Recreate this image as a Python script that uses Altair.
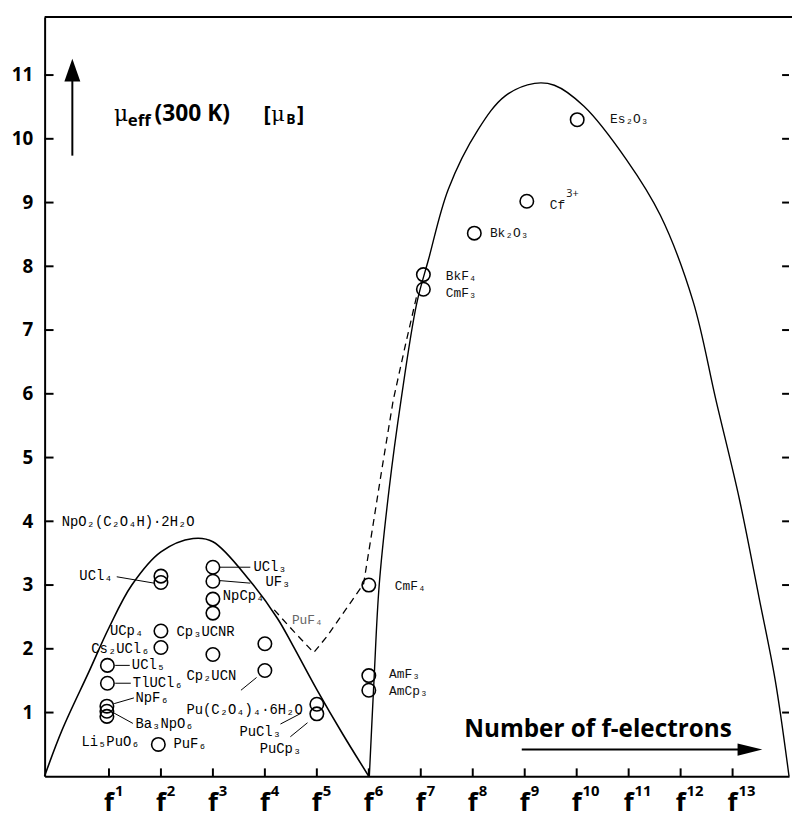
import altair as alt
import pandas as pd

# ---------------- data ----------------
f_ticks = list(range(1, 14))
f_tick_sup = [str(n) for n in f_ticks]
mu_ticks = list(range(1, 12))

# measured compounds: f-electron count, mu_eff(300 K)
cmp_names = ["UCl5", "TlUCl6", "NpF6", "Ba3NpO6", "Li5PuO6",
             "UCl4 a", "UCl4 b", "UCp4", "Cs2UCl6", "PuF6",
             "UCl3", "UF3", "NpCp4", "Cp3UCNR", "Cp2UCN",
             "f4 upper", "Pu(C2O4)4.6H2O", "PuCl3", "PuCp3",
             "CmF4", "AmF3", "AmCp3",
             "BkF4", "CmF3", "Bk2O3", "Cf3+", "Es2O3"]
cmp_f = [0.97, 0.97, 0.96, 0.96, 0.96,
         2.0, 2.0, 2.0, 2.0, 1.95,
         3.0, 3.0, 3.0, 3.0, 3.0,
         4.0, 4.0, 5.0, 5.0,
         6.0, 6.0, 6.0,
         7.05, 7.05, 8.03, 9.04, 10.01]
cmp_mu = [1.74, 1.46, 1.10, 1.02, 0.94,
          3.14, 3.04, 2.28, 2.02, 0.50,
          3.28, 3.06, 2.78, 2.56, 1.91,
          2.08, 1.66, 1.13, 0.98,
          3.00, 1.58, 1.35,
          7.87, 7.64, 8.52, 9.02, 10.30]

# theoretical curves (solid) and PuF4-type curve (dashed)
left_f = [-0.24, 0.10, 0.62, 1.0, 1.44, 2.0, 2.62, 3.0, 3.72, 4.24,
          4.54, 5.0, 5.5, 6.0]
left_mu = [0.0, 0.73, 1.65, 2.33, 3.0, 3.52, 3.73, 3.68, 3.06, 2.48,
           2.05, 1.36, 0.66, 0.0]

right_f = [6.01, 6.10, 6.20, 6.39, 6.62, 6.92, 7.15, 7.53, 8.10, 8.62, 9.19, 9.57,
           10.14, 10.96, 11.61, 12.24, 12.68, 13.13, 13.51, 13.82, 14.086]
right_mu = [0.0, 1.51, 3.0, 4.5, 5.9, 7.41, 8.11, 9.21, 10.14, 10.67, 10.87, 10.84,
            10.51, 9.67, 8.80, 7.45, 5.90, 4.35, 2.80, 1.51, 0.0]

dash_f = [4.18, 4.56, 4.94, 5.2, 5.44, 5.68, 5.9, 6.04, 6.25, 6.47, 6.7, 6.92]
dash_mu = [2.61, 2.27, 1.94, 2.2, 2.48, 2.76, 3.02, 3.73, 4.81, 5.90, 6.75, 7.53]

# compound labels (left-anchored, in data units)
lab_left_text = ["NpO₂(C₂O₄H)·2H₂O", "UCl₄", "UCl₃", "UF₃", "NpCp₄", "Cp₃UCNR",
                 "UCp₄", "Cs₂UCl₆", "UCl₅", "TlUCl₆", "NpF₆", "Ba₃NpO₆",
                 "Li₅PuO₆", "PuF₆", "Cp₂UCN", "Pu(C₂O₄)₄·6H₂O", "PuCl₃", "PuCp₃"]
lab_left_f = [0.09, 0.43, 3.78, 4.01, 3.19, 2.30,
              1.02, 0.66, 1.44, 1.46, 1.51, 1.51,
              0.47, 2.24, 2.49, 2.49, 3.51, 3.90]
lab_left_mu = [3.99, 3.14, 3.28, 3.04, 2.83, 2.27,
               2.28, 1.99, 1.74, 1.46, 1.23, 0.82,
               0.54, 0.50, 1.57, 1.04, 0.70, 0.42]

lab_right_text = ["CmF₄", "AmF₃", "AmCp₃", "BkF₄", "CmF₃", "Bk₂O₃", "Cf", "Es₂O₃"]
lab_right_f = [6.50, 6.39, 6.39, 7.48, 7.48, 8.33, 9.48, 10.64]
lab_right_mu = [2.98, 1.60, 1.33, 7.84, 7.58, 8.52, 8.96, 10.31]

lab_sup_text = ["3+"]
lab_sup_f = [9.80]
lab_sup_mu = [9.13]

lab_faint_text = ["PuF₄"]
lab_faint_f = [4.52]
lab_faint_mu = [2.45]

# leader lines from labels to circles
lead_f1 = [1.15, 3.13, 3.13, 1.12, 1.12, 1.10, 1.08, 3.54, 4.30, 4.49]
lead_mu1 = [3.13, 3.28, 3.07, 1.74, 1.46, 1.14, 1.00, 1.35, 0.82, 0.62]
lead_f2 = [1.87, 3.72, 3.72, 1.40, 1.42, 1.48, 1.46, 3.84, 4.70, 4.82]
lead_mu2 = [3.03, 3.28, 3.03, 1.74, 1.46, 1.23, 0.83, 1.55, 0.99, 0.84]

# ---------------- chart ----------------
W, H = 752, 767
xs = alt.Scale(domain=[-0.238, 14.086], nice=False, zero=False)
ys = alt.Scale(domain=[0, 11.91], nice=False, zero=False)
xaxis = alt.Axis(grid=False, ticks=False, labels=False, title=None,
                 domainColor="black", domainWidth=2)
yaxis = alt.Axis(grid=False, ticks=False, title=None, values=mu_ticks,
                 labelFont="Open Sans", labelFontWeight="bold", labelFontSize=19,
                 labelColor="black", labelPadding=12,
                 domainColor="black", domainWidth=2)

LABEL_FONT = "Liberation Mono"
dummy = pd.DataFrame({"k": [0]})


def X(field="f"):
    return alt.X(f"{field}:Q", scale=xs, axis=xaxis)


def Y(field="mu"):
    return alt.Y(f"{field}:Q", scale=ys, axis=yaxis)


pts = pd.DataFrame({"name": cmp_names, "f": cmp_f, "mu": cmp_mu})
left_df = pd.DataFrame({"f": left_f, "mu": left_mu, "o": range(len(left_f))})
right_df = pd.DataFrame({"f": right_f, "mu": right_mu, "o": range(len(right_f))})
dash_df = pd.DataFrame({"f": dash_f, "mu": dash_mu, "o": range(len(dash_f))})
labL = pd.DataFrame({"t": lab_left_text, "f": lab_left_f, "mu": lab_left_mu})
labR = pd.DataFrame({"t": lab_right_text, "f": lab_right_f, "mu": lab_right_mu})
labS = pd.DataFrame({"t": lab_sup_text, "f": lab_sup_f, "mu": lab_sup_mu})
labF = pd.DataFrame({"t": lab_faint_text, "f": lab_faint_f, "mu": lab_faint_mu})
lead = pd.DataFrame({"f": lead_f1, "mu": lead_mu1, "f2": lead_f2, "mu2": lead_mu2})
fticks = pd.DataFrame({"f": f_ticks, "sup": f_tick_sup})
muticks = pd.DataFrame({"mu": mu_ticks})

layers = []

# curves
layers.append(alt.Chart(left_df).mark_line(color="black", strokeWidth=1.6, interpolate="catmull-rom")
              .encode(x=X(), y=Y(), order="o:Q"))
layers.append(alt.Chart(right_df).mark_line(color="black", strokeWidth=1.4, interpolate="catmull-rom")
              .encode(x=X(), y=Y(), order="o:Q"))
layers.append(alt.Chart(dash_df).mark_line(color="black", strokeWidth=1.3, strokeDash=[7, 5])
              .encode(x=X(), y=Y(), order="o:Q"))

# leader lines
layers.append(alt.Chart(lead).mark_rule(color="black", strokeWidth=1)
              .encode(x=X(), y=Y(), x2="f2:Q", y2="mu2:Q"))

# circles
layers.append(alt.Chart(pts).mark_point(shape="circle", filled=False, size=185,
                                         color="black", strokeWidth=1.6, opacity=1)
              .encode(x=X(), y=Y(), tooltip="name:N"))

# compound labels
layers.append(alt.Chart(labL).mark_text(align="left", baseline="middle", font=LABEL_FONT,
                                         fontSize=14, color="black")
              .encode(x=X(), y=Y(), text="t:N"))
layers.append(alt.Chart(labR).mark_text(align="left", baseline="middle", font=LABEL_FONT,
                                         fontSize=13, color="#111")
              .encode(x=X(), y=Y(), text="t:N"))
layers.append(alt.Chart(labS).mark_text(align="left", baseline="middle", font="Open Sans",
                                         fontSize=11, color="#111")
              .encode(x=X(), y=Y(), text="t:N"))
layers.append(alt.Chart(labF).mark_text(align="left", baseline="middle", font=LABEL_FONT,
                                         fontSize=13, color="#666")
              .encode(x=X(), y=Y(), text="t:N"))

# inward tick marks: left, right, bottom
layers.append(alt.Chart(muticks).mark_rule(color="black", strokeWidth=2)
              .encode(y=Y(), x=alt.value(0), x2=alt.value(9)))
layers.append(alt.Chart(muticks).mark_rule(color="black", strokeWidth=2)
              .encode(y=Y(), x=alt.value(W - 7), x2=alt.value(W)))
layers.append(alt.Chart(fticks).mark_rule(color="black", strokeWidth=2)
              .encode(x=X(), y=alt.value(H - 8), y2=alt.value(H)))

# top frame line
layers.append(alt.Chart(dummy).mark_rule(color="black", strokeWidth=2)
              .encode(x=alt.value(0), x2=alt.value(W + 3), y=alt.value(0)))

# x tick labels: f with superscript
layers.append(alt.Chart(fticks).mark_text(text="f", font="Open Sans", fontWeight="bold",
                                           fontSize=26, align="center", baseline="alphabetic",
                                           color="black")
              .encode(x=X(), y=alt.value(H + 35)))
layers.append(alt.Chart(fticks).mark_text(font="Open Sans", fontWeight="bold", fontSize=15,
                                           align="left", baseline="alphabetic", dx=6,
                                           color="black")
              .encode(x=X(), y=alt.value(H + 20), text="sup:N"))

# y-axis title with up arrow
layers.append(alt.Chart(dummy).mark_rule(color="black", strokeWidth=2)
              .encode(x=alt.value(28), y=alt.value(62), y2=alt.value(140)))
layers.append(alt.Chart(dummy).mark_point(shape="M0,-1L0.7,1L-0.7,1Z", size=529, filled=True,
                                           color="black", opacity=1, strokeWidth=0)
              .encode(x=alt.value(28), y=alt.value(53.5)))
layers.append(alt.Chart(dummy).mark_text(text="μ", font="DejaVu Serif", fontSize=22,
                                          align="left", baseline="alphabetic", color="black")
              .encode(x=alt.value(70), y=alt.value(105)))
layers.append(alt.Chart(dummy).mark_text(text="eff", font="Open Sans", fontWeight="bold",
                                          fontSize=17, align="left", baseline="alphabetic",
                                          color="black")
              .encode(x=alt.value(84), y=alt.value(110)))
layers.append(alt.Chart(dummy).mark_text(text="(300 K)", font="Open Sans", fontWeight="bold",
                                          fontSize=23, align="left", baseline="alphabetic",
                                          color="black")
              .encode(x=alt.value(111), y=alt.value(105)))
layers.append(alt.Chart(dummy).mark_text(text="[", font="Open Sans", fontWeight="bold",
                                          fontSize=22, align="left", baseline="alphabetic",
                                          color="black")
              .encode(x=alt.value(221), y=alt.value(105)))
layers.append(alt.Chart(dummy).mark_text(text="μ", font="DejaVu Serif", fontSize=21,
                                          align="left", baseline="alphabetic", color="black")
              .encode(x=alt.value(229), y=alt.value(105)))
layers.append(alt.Chart(dummy).mark_text(text="B", font="Open Sans", fontWeight="bold",
                                          fontSize=14, align="left", baseline="alphabetic",
                                          color="black")
              .encode(x=alt.value(244), y=alt.value(108)))
layers.append(alt.Chart(dummy).mark_text(text="]", font="Open Sans", fontWeight="bold",
                                          fontSize=22, align="left", baseline="alphabetic",
                                          color="black")
              .encode(x=alt.value(255), y=alt.value(105)))

# x-axis title with right arrow
layers.append(alt.Chart(dummy).mark_text(text="Number of f-electrons", font="Open Sans",
                                          fontWeight="bold", fontSize=24.5, align="center",
                                          baseline="alphabetic", color="black")
              .encode(x=alt.value(559), y=alt.value(727)))
layers.append(alt.Chart(dummy).mark_rule(color="black", strokeWidth=2)
              .encode(x=alt.value(482), x2=alt.value(705), y=alt.value(740)))
layers.append(alt.Chart(dummy).mark_point(shape="M1,0L-1,-0.5L-1,0.5Z", size=625, filled=True,
                                           color="black", opacity=1, strokeWidth=0)
              .encode(x=alt.value(712.5), y=alt.value(740)))

chart = alt.layer(*layers).properties(
    width=W, height=H,
    autosize=alt.AutoSizeParams(type="none"),
    padding={"left": 37, "top": 5, "right": 3, "bottom": 40},
    background="white",
).configure_view(stroke=None)

chart.save("out.html", embed_options={"renderer": "svg", "actions": False})
